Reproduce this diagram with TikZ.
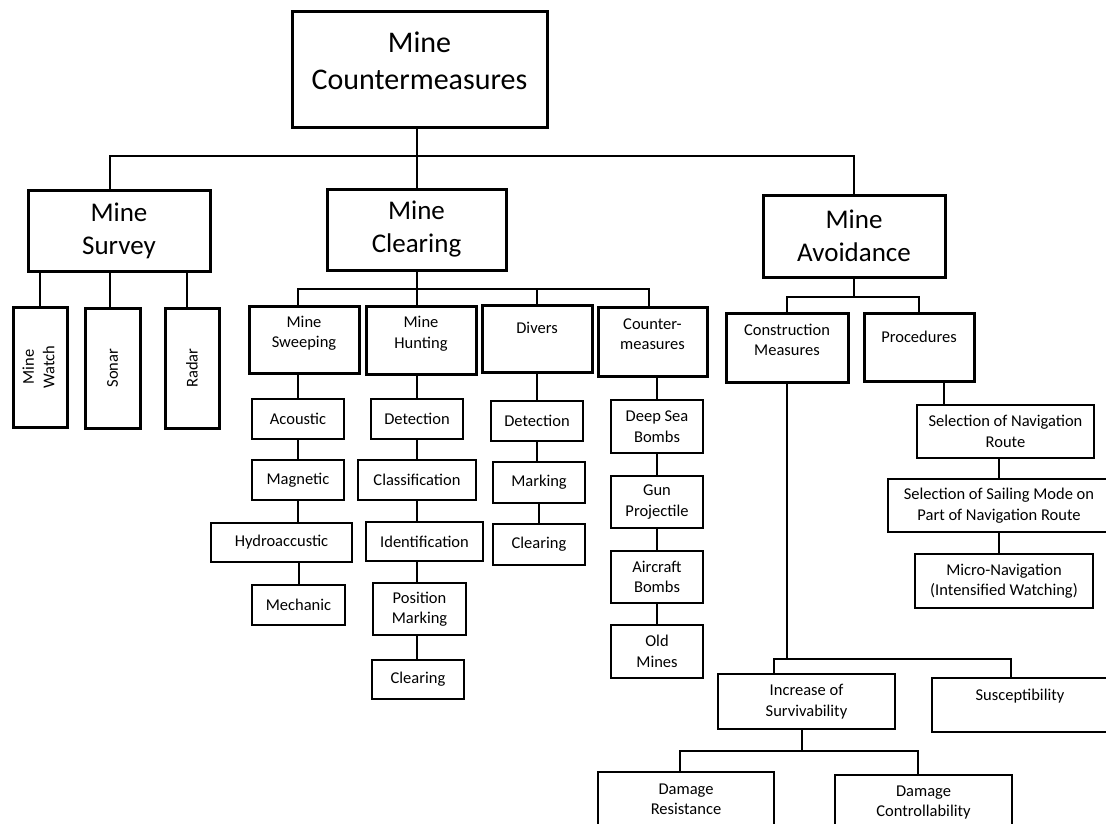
\documentclass[tikz,border=0pt]{standalone}
\usepackage{fontspec}
\setmainfont{Carlito}
\newcommand{\lifted}[1]{\raisebox{6pt}[\height][\depth]{\begin{tabular}{@{}c@{}}#1\end{tabular}}}

\begin{document}
\begin{tikzpicture}[x=1pt,y=-1pt,line width=2pt,
    dims/.style 2 args={minimum width=#1pt,minimum height=#2pt},
    anybox/.style={draw,align=center,inner sep=0pt,font=\fontsize{16.5}{20.5}\selectfont},
    topbox/.style={anybox,line width=3pt,font=\fontsize{30}{37}\selectfont},
    mainbox/.style={anybox,line width=3pt,font=\fontsize{27}{33}\selectfont},
    subbox/.style={anybox,line width=3pt},
    itembox/.style={anybox,line width=1.3pt}]

      \useasboundingbox (0,0) rectangle (1106,824);
      \clip (0,0) rectangle (1106,824);

      \node (0) [topbox,dims={255}{116}] at (419.5,70) {\lifted{Mine\\Countermeasures}};
      \node (1) [mainbox,dims={182}{81}] at (119,230.5) {Mine\\Survey};
      \node (2) [mainbox,dims={179}{81}] at (416.5,229.5) {Mine\\Clearing};
      \node (3) [mainbox,dims={182}{82}] at (854,236) {Mine\\Avoidance};

      \node (11) [subbox,dims={54}{120}] at (40,367) {\rotatebox{90}{\begin{tabular}{@{}c@{}}Mine\\Watch\end{tabular}}};
      \node (12) [subbox,dims={55}{120}] at (112.5,368) {\rotatebox{90}{Sonar}};
      \node (13) [subbox,dims={54}{120}] at (192,368) {\rotatebox{90}{Radar}};

      \node (21) [subbox,dims={110}{67}] at (304,339.5) {\lifted{Mine\\Sweeping}};
      \node (22) [subbox,dims={110}{68}] at (421,340) {\lifted{Mine\\Hunting}};
      \node (23) [subbox,dims={110}{67}] at (537,338.5) {Divers\\\mbox{}};
      \node (24) [subbox,dims={109}{69}] at (652.5,341.5) {\lifted{Counter-\\measures}};

      \node (211) [itembox,dims={92}{40}] at (298,419) {Acoustic};
      \node (212) [itembox,dims={92}{40}] at (298,480) {Magnetic};
      \node (213) [itembox,dims={141}{39}] at (281.5,542.5) {Hydroaccustic};
      \node (214) [itembox,dims={93}{40}] at (298.5,605) {Mechanic};

      \node (221) [itembox,dims={92}{40}] at (417,419) {Detection};
      \node (222) [itembox,dims={118}{40}] at (417,480) {Classification};
      \node (223) [itembox,dims={117}{39}] at (424.5,541.5) {Identification};
      \node (224) [itembox,dims={93}{52}] at (419.5,609) {Position\\Marking};
      \node (225) [itembox,dims={92}{39}] at (418,679.5) {Clearing};

      \node (231) [itembox,dims={92}{40}] at (537,421) {Detection};
      \node (232) [itembox,dims={92}{41}] at (539,482.5) {Marking};
      \node (233) [itembox,dims={92}{41}] at (539,544.5) {Clearing};

      \node (241) [itembox,dims={92}{53}] at (657,426.5) {Deep Sea\\Bombs};
      \node (242) [itembox,dims={92}{52}] at (657,502) {Gun\\Projectile};
      \node (243) [itembox,dims={92}{52}] at (657,577) {Aircraft\\Bombs};
      \node (244) [itembox,dims={92}{53}] at (657,651.5) {Old\\Mines};

      \node (31) [subbox,dims={122}{69}] at (787,347.5) {\lifted{Construction\\Measures}};
      \node (32) [subbox,dims={110}{68}] at (919,347) {Procedures\\\mbox{}};

      \node (321) [itembox,dims={177}{53}] at (1005.5,431.5) {Selection of Navigation\\Route};
      \node (322) [itembox,dims={222}{53}] at (999,505.5) {Selection of Sailing Mode on\\Part of Navigation Route};
      \node (323) [itembox,dims={178}{54}] at (1004,581) {Micro-Navigation\\(Intensified Watching)};

      \node (311) [itembox,dims={177}{55}] at (806.5,701.5) {Increase of\\Survivability};
      \node (312) [itembox,dims={176}{54}] at (1020,705) {Susceptibility\\\mbox{}};
      \node (3111) [itembox,dims={176}{55}] at (686,799.5) {Damage\\Resistance};
      \node (3112) [itembox,dims={177}{55}] at (923.5,802.5) {Damage\\Controllability};

      \draw ([xshift=-2.5]0.south) -- ++(0,27) -| ([xshift=-9]1.north);
      \draw ([xshift=-2.5]0.south) -- ++(0,27) -| (2.north);
      \draw ([xshift=-2.5]0.south) -- ++(0,27) -| (3.north);

      \draw (11.north) -- (11.north |- 1.south);
      \draw ([xshift=-2.5]12.north) -- ([xshift=-2.5]12.north |- 1.south);
      \draw ([xshift=-5]13.north) -- ([xshift=-5]13.north |- 1.south);

      \draw (2.south) -- ++(0,17) -| (211 |- 21.north);
      \draw (2.south) -- ++(0,17) -| (221 |- 22.north);
      \draw (2.south) -- ++(0,17) -| (23.north);
      \draw (2.south) -- ++(0,17) -| ([xshift=-3.5]24.north);

      \draw (211 |- 21.south) -- (211);
      \draw (211) -- (212);
      \draw (212.south) -- (212.south |- 213.north);
      \draw (214 |- 213.south) -- (214);

      \draw (221 |- 22.south) -- (221);
      \draw (221) -- (222);
      \draw (222.south) -- (222.south |- 223.north);
      \draw (222.south |- 223.south) -- (222.south |- 224.north);
      \draw (222.south |- 224.south) -- (222.south |- 225.north);

      \draw (23) -- (231);
      \draw (231.south) -- (231.south |- 232.north);
      \draw (232) -- (233);

      \draw (241 |- 24.south) -- (241);
      \draw (241) -- (242);
      \draw (242) -- (243);
      \draw (243) -- (244);

      \draw (3.south) -- ++(0,18) -| (31.north);
      \draw (3.south) -- ++(0,18) -| (32.north);

      \draw ([xshift=25]32.south) -- ([xshift=25]32.south |- 321.north);
      \draw (322.north) -- (322.north |- 321.south);
      \draw (322.south) -- (322.south |- 323.north);

      \draw (31.south) -- ++(0,275) -| ([xshift=-33]311.north);
      \draw (31.south) -- ++(0,275) -| ([xshift=-9]312.north);

      \draw ([xshift=-5]311.south) -- ++(0,21) -| ([xshift=-6]3111.north);
      \draw ([xshift=-5]311.south) -- ++(0,21) -| ([xshift=-6]3112.north);

\end{tikzpicture}
\end{document}
